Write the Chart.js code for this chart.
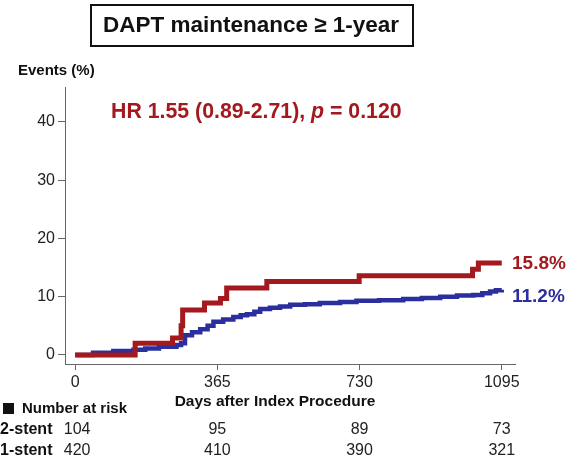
<!DOCTYPE html>
<html><head><meta charset="utf-8">
<script src="https://cdn.jsdelivr.net/npm/chart.js@4/dist/chart.umd.min.js"></script>
<style>html,body{margin:0;padding:0;background:#fff;overflow:hidden}</style>
</head><body>
<canvas id="c" width="572" height="462"></canvas>
<script>
// ---- data ----
const twoStentDays   = [0, 154, 250, 272, 276, 332, 373, 389, 492, 729, 1020, 1035, 1095];
const twoStentEvents = [0, 2.0, 2.9, 5.0, 7.7, 8.9, 9.7, 11.5, 12.6, 13.6, 14.7, 15.8, 15.8];
const oneStentDays   = [0, 46, 98, 150, 180, 215, 260, 272, 282, 300, 321, 340, 355, 380, 406, 425, 441, 460, 475, 500, 526, 552, 590, 628, 680, 722, 780, 842, 890, 937, 980, 1022, 1045, 1065, 1080, 1095];
const oneStentEvents = [0, 0.4, 0.7, 0.9, 1.1, 1.4, 1.7, 2.0, 3.4, 3.9, 4.4, 5.0, 5.7, 6.1, 6.5, 6.8, 7.0, 7.4, 7.9, 8.1, 8.3, 8.6, 8.7, 8.9, 9.1, 9.3, 9.4, 9.6, 9.8, 10.0, 10.2, 10.3, 10.6, 10.9, 11.1, 11.2];
const xTicks = [0, 365, 730, 1095];
const yTicks = [0, 10, 20, 30, 40];
const seriesNames = ['2-stent', '1-stent'];
const riskTwoStent = [104, 95, 89, 73];
const riskOneStent = [420, 410, 390, 321];
const finalLabels = ['15.8%', '11.2%'];

const RED = '#A3191E';
const BLUE = '#2B2F9E';
const FONT = '"Liberation Sans", Arial, Helvetica, sans-serif';

const toPts = (xs, ys) => xs.map((x, i) => ({x: x, y: ys[i]}));

const overlay = {
  id: 'overlay',
  afterDraw(chart) {
    const ctx = chart.ctx;
    const xs = chart.scales.x, ys = chart.scales.y;
    ctx.save();
    // title box
    ctx.strokeStyle = '#111';
    ctx.lineWidth = 2;
    ctx.strokeRect(91, 5, 322, 41);
    ctx.fillStyle = '#111';
    ctx.font = 'bold 22.5px ' + FONT;
    ctx.textAlign = 'center';
    ctx.textBaseline = 'middle';
    ctx.fillText('DAPT maintenance \u2265 1-year', 251, 26);
    // y title
    ctx.font = 'bold 15px ' + FONT;
    ctx.textAlign = 'left';
    ctx.fillText('Events (%)', 18, 71);
    // HR text
    ctx.fillStyle = RED;
    let x = 111;
    const yHR = 112;
    ctx.font = 'bold 21.3px ' + FONT;
    const p1 = 'HR 1.55 (0.89-2.71), ';
    ctx.fillText(p1, x, yHR); x += ctx.measureText(p1).width;
    ctx.font = 'italic bold 21.3px ' + FONT;
    ctx.fillText('p', x, yHR); x += ctx.measureText('p').width;
    ctx.font = 'bold 21.3px ' + FONT;
    ctx.fillText(' = 0.120', x, yHR);
    // end labels
    ctx.font = 'bold 19px ' + FONT;
    ctx.fillStyle = RED;
    ctx.fillText(finalLabels[0], 512, ys.getPixelForValue(twoStentEvents[twoStentEvents.length - 1]) + 1);
    ctx.fillStyle = BLUE;
    ctx.fillText(finalLabels[1], 512, ys.getPixelForValue(oneStentEvents[oneStentEvents.length - 1]) + 7);
    // x-axis title
    ctx.fillStyle = '#111';
    ctx.font = 'bold 15.5px ' + FONT;
    ctx.textAlign = 'center';
    ctx.fillText('Days after Index Procedure', 275, 402);
    // number at risk
    ctx.font = 'bold 15px ' + FONT;
    ctx.fillRect(3, 403, 11, 11);
    ctx.textAlign = 'left';
    ctx.fillText('Number at risk', 22, 409);
    ctx.font = 'bold 16px ' + FONT;
    ctx.fillText(seriesNames[0], 0, 430);
    ctx.fillText(seriesNames[1], 0, 451);
    ctx.font = '16px ' + FONT;
    ctx.fillStyle = '#222';
    ctx.textAlign = 'center';
    xTicks.forEach((t, i) => {
      const px = xs.getPixelForValue(t) + (i === 0 ? 2 : 0);
      ctx.fillText(String(riskTwoStent[i]), px, 430);
      ctx.fillText(String(riskOneStent[i]), px, 451);
    });
    ctx.restore();
  }
};

new Chart(document.getElementById('c'), {
  type: 'line',
  data: {
    datasets: [
      {label: seriesNames[0], data: toPts(twoStentDays, twoStentEvents), borderColor: RED, borderWidth: 5, stepped: true, pointRadius: 0, fill: false, borderCapStyle: 'butt', borderJoinStyle: 'miter'},
      {label: seriesNames[1], data: toPts(oneStentDays, oneStentEvents), borderColor: BLUE, borderWidth: 4.5, stepped: true, pointRadius: 0, fill: false, borderCapStyle: 'butt', borderJoinStyle: 'miter'}
    ]
  },
  options: {
    responsive: false,
    animation: false,
    devicePixelRatio: 1,
    layout: {padding: {left: 0, top: 87, right: 57, bottom: 0}},
    plugins: {legend: {display: false}, tooltip: {enabled: false}},
    scales: {
      x: {
        type: 'linear', min: -26, max: 1129,
        afterBuildTicks: s => { s.ticks = xTicks.map(v => ({value: v})); },
        afterFit: s => { s.height = 98; },
        grid: {drawOnChartArea: false, drawTicks: true, tickLength: 6, color: '#666'},
        border: {display: true, color: '#666', width: 1},
        ticks: {color: '#222', font: {family: FONT, size: 16}, padding: 3, maxRotation: 0, autoSkip: false, callback: v => String(v)}
      },
      y: {
        type: 'linear', min: -1.55, max: 46,
        afterBuildTicks: s => { s.ticks = yTicks.map(v => ({value: v})); },
        afterFit: s => { s.width = 65; },
        grid: {drawOnChartArea: false, drawTicks: true, tickLength: 7, color: '#666'},
        border: {display: true, color: '#666', width: 1},
        ticks: {color: '#222', font: {family: FONT, size: 16}, padding: 3, callback: v => String(v)}
      }
    }
  },
  plugins: [overlay]
});
</script>
</body></html>
